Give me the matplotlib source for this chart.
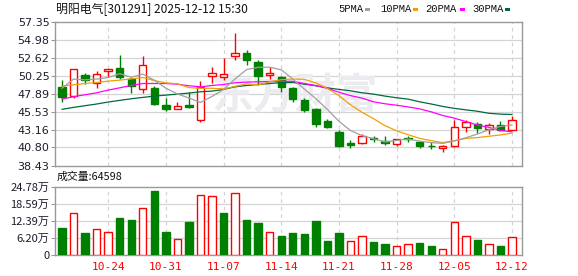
import matplotlib
matplotlib.use('Agg')
import matplotlib.pyplot as plt
import numpy as np
from matplotlib.patches import Rectangle

plt.rcParams['font.family'] = ['Noto Sans CJK SC', 'DejaVu Sans']

title = '明阳电气[301291] 2025-12-12 15:30'
opens = [48.74, 47.61, 50.31, 49.22, 50.88, 51.23, 49.79, 48.44, 48.61, 46.39,
         45.90, 46.39, 44.38, 50.27, 50.01, 52.89, 53.28, 52.10, 50.31, 50.01,
         48.61, 47.00, 45.86, 44.29, 42.85, 41.41, 41.37, 42.11, 41.67, 41.28,
         42.11, 41.54, 41.02, 40.78, 40.93, 43.55, 43.85, 43.20, 43.72, 43.07]
closes = [47.48, 51.18, 49.66, 50.53, 51.18, 50.01, 48.83, 51.71, 46.56, 45.90,
          46.21, 46.17, 48.74, 50.57, 50.44, 53.19, 52.32, 50.22, 50.62, 48.74,
          47.13, 45.73, 43.94, 43.50, 40.93, 41.11, 42.33, 41.89, 41.41, 41.93,
          41.98, 40.93, 40.93, 40.94, 43.46, 44.12, 43.42, 43.72, 43.11, 44.42]
highs = [49.74, 51.18, 50.62, 50.84, 51.18, 52.93, 50.01, 52.80, 48.92, 47.30,
         46.78, 48.09, 49.53, 51.36, 52.58, 55.90, 53.67, 52.28, 51.45, 50.18,
         48.78, 47.26, 45.95, 44.55, 43.11, 41.80, 42.59, 42.33, 42.33, 41.93,
         42.37, 41.67, 41.50, 41.19, 44.46, 44.42, 44.16, 44.03, 44.29, 44.99]
lows = [46.82, 47.34, 49.18, 48.61, 50.09, 49.83, 48.00, 48.00, 46.39, 45.64,
        45.81, 45.99, 44.20, 49.31, 49.66, 52.32, 51.66, 49.00, 49.75, 48.13,
        46.82, 45.47, 43.50, 43.37, 40.84, 40.67, 41.28, 41.54, 41.19, 40.93,
        41.54, 40.67, 40.54, 40.19, 40.84, 42.89, 42.76, 42.55, 42.94, 43.07]
volumes = [9.9, 15.2, 7.9, 9.3, 8.2, 13.5, 12.8, 17.1, 23.5, 8.3,
           5.9, 12.0, 21.9, 21.6, 15.4, 22.7, 12.8, 11.6, 8.5, 6.8,
           7.9, 7.5, 12.3, 5.0, 7.9, 5.2, 7.0, 4.6, 3.9, 3.4,
           4.1, 4.2, 3.2, 2.3, 12.2, 7.0, 5.4, 4.1, 3.2, 6.46]
vol_up = [0, 1, 0, 1, 1, 0, 0, 1, 0, 0,
          1, 0, 1, 1, 0, 1, 0, 0, 1, 0,
          0, 0, 0, 0, 0, 1, 1, 0, 0, 1,
          1, 0, 0, 1, 1, 1, 0, 1, 0, 1]
ma5 = [48.6, 49.8, 49.7, 49.8, 50.01, 50.51, 50.04, 50.45, 49.66, 48.60,
       47.84, 47.31, 46.72, 47.52, 48.43, 49.82, 51.05, 51.35, 51.36, 51.02,
       49.81, 48.49, 47.23, 45.81, 44.25, 43.04, 42.36, 41.95, 41.53, 41.73,
       41.91, 41.63, 41.44, 41.34, 41.65, 42.08, 42.57, 43.13, 43.57, 43.76]
ma10 = [48.87, 49.05, 49.22, 49.35, 49.53, 49.66, 49.83, 50.01, 49.6, 49.30,
        49.18, 48.68, 48.58, 48.59, 48.51, 48.83, 49.18, 49.03, 49.44, 49.72,
        49.81, 49.77, 49.29, 48.58, 47.63, 46.42, 45.43, 44.59, 43.67, 42.99,
        42.48, 42.00, 41.69, 41.44, 41.69, 41.99, 42.10, 42.28, 42.45, 42.70]
ma20 = [47.17, 47.48, 47.74, 48.0, 48.35, 48.65, 48.96, 49.22, 49.22, 49.22,
        49.13, 48.92, 48.78, 48.96, 49.09, 49.31, 49.40, 49.44, 49.48, 49.51,
        49.50, 49.22, 48.94, 48.59, 48.07, 47.63, 47.30, 46.81, 46.55, 46.36,
        46.14, 45.88, 45.49, 45.01, 44.66, 44.21, 43.76, 43.44, 43.06, 42.85]
ma30 = [45.82, 46.08, 46.30, 46.52, 46.78, 47.0, 47.21, 47.39, 47.56, 47.69,
        47.82, 47.96, 48.13, 48.22, 48.44, 48.78, 48.96, 49.09, 49.22, 49.33,
        49.35, 49.13, 48.92, 48.65, 48.44, 48.26, 48.0, 47.82, 47.56, 47.34,
        47.16, 46.81, 46.52, 46.20, 45.95, 45.75, 45.57, 45.30, 45.19, 45.14]
ma_names = ['5PMA', '10PMA', '20PMA', '30PMA']
xtick_idx = [4, 9, 14, 19, 24, 29, 34, 39]
xtick_labels = ['10-24', '10-31', '11-07', '11-14', '11-21', '11-28', '12-05', '12-12']
price_ticks = [38.43, 40.80, 43.16, 45.53, 47.89, 50.25, 52.62, 54.98, 57.35]
price_tick_labels = ['38.43', '40.80', '43.16', '45.53', '47.89', '50.25', '52.62', '54.98', '57.35']
vol_ticks = [0, 6.20, 12.39, 18.59, 24.78]
vol_tick_labels = ['0', '6.20万', '12.39万', '18.59万', '24.78万']
last_volume = '64598'

RED = '#ff0000'
GREEN = '#008000'
ma_colors = ['#a0a0a0', '#f0a000', '#ff00ff', '#006b3a']
GRID = '#d4d4d4'
SPINE = '#999999'
TXT = '#1c1c2c'

W, H = 578, 276
fig = plt.figure(figsize=(W / 100, H / 100), dpi=100)

def fx(px):
    return px / W

def fy(py):
    return 1 - py / H

axp = fig.add_axes([fx(55), fy(165.5), fx(522) - fx(55), fy(21.7) - fy(165.5)])
axv = fig.add_axes([fx(55), fy(255), fx(522) - fx(55), fy(187) - fy(255)])

n = len(closes)
x = np.arange(n)
o = np.array(opens); c = np.array(closes)
hi = np.array(highs); lo = np.array(lows)
up = c >= o
cols = np.where(up, RED, GREEN)
faces = np.where(up, 'white', GREEN)

for ax in (axp, axv):
    ax.set_xlim(-0.61, 39.87)
    for s in ax.spines.values():
        s.set_color(SPINE)
        s.set_linewidth(1.0)
    ax.set_xticks([])
    for xi in xtick_idx:
        ax.axvline(xi, color=GRID, lw=0.9, ls=(0, (3, 3)), zorder=0)

# price panel
axp.set_ylim(price_ticks[0], price_ticks[-1])
axp.set_yticks(price_ticks)
axp.set_yticklabels(price_tick_labels, fontsize=8, color=TXT, family='DejaVu Sans')
axp.tick_params(axis='y', length=3, color=SPINE, pad=1)
for t in price_ticks[1:-1]:
    axp.axhline(t, color=GRID, lw=0.9, zorder=0)

axp.text(20.2, 47.7, '东方财富', fontsize=30, fontweight='bold', color='#ececf0',
         ha='center', va='center', zorder=0.5)

axp.vlines(x, lo, hi, colors=cols, lw=1.0, zorder=2)
body_bottom = np.minimum(o, c)
body_h = np.maximum(np.abs(c - o), 0.06)
axp.bar(x, body_h, bottom=body_bottom, width=0.64, color=faces, edgecolor=cols,
        linewidth=1.0, zorder=3)

for vals, col in zip([ma30, ma20, ma10, ma5], ma_colors[::-1]):
    axp.plot(x, vals, color=col, lw=0.9, zorder=4)

# volume panel
axv.set_ylim(0, vol_ticks[-1])
axv.set_yticks(vol_ticks)
axv.set_yticklabels(vol_tick_labels, fontsize=8, color=TXT)
axv.tick_params(axis='y', length=3, color=SPINE, pad=1)
for t in vol_ticks[1:-1]:
    axv.axhline(t, color=GRID, lw=0.9, zorder=0)
vu = np.array(vol_up).astype(bool)
axv.bar(x, volumes, width=0.64, color=np.where(vu, 'white', GREEN),
        edgecolor=np.where(vu, RED, GREEN), linewidth=1.0, zorder=3)

for xi, lab in zip(xtick_idx, xtick_labels):
    axv.text(xi, -2.4, lab, ha='center', va='top', fontsize=8, color=RED,
             family='DejaVu Sans Mono')

# header texts
fig.text(fx(56), fy(10), title, fontsize=8.6, color='#111111', va='center', ha='left')
fig.text(fx(57), fy(176.5), '成交量:' + last_volume, fontsize=7.8, color='#111111',
         va='center', ha='left')

leg_text_x = [338, 380, 425, 472]
leg_box_x = [365, 413, 460, 505]
for name, col, tx, bx in zip(ma_names, ma_colors, leg_text_x, leg_box_x):
    fig.text(fx(tx), fy(9.5), name, fontsize=7.6, color='#111111', va='center', ha='left',
             family='Liberation Mono')
    fig.patches.append(Rectangle((fx(bx), fy(11)), 5 / W, 3 / H, transform=fig.transFigure,
                                 facecolor=col, edgecolor='none'))

fig.savefig('out.png', dpi=100, facecolor='white')
